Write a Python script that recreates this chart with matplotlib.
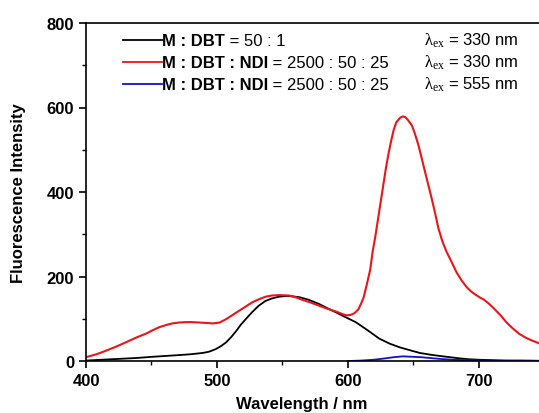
import matplotlib.pyplot as plt
import numpy as np

plt.rcParams['font.family'] = ['Liberation Sans', 'DejaVu Sans']
plt.rcParams['mathtext.fontset'] = 'custom'
plt.rcParams['mathtext.rm'] = 'Liberation Serif'
plt.rcParams['mathtext.it'] = 'Liberation Serif'

# black: M : DBT = 50 : 1, ex 330 nm
wl_black = [400, 412, 425, 438, 451, 461, 471, 480, 489, 494, 499, 503, 507, 511, 515,
            518, 522, 527, 532, 537, 542, 547, 553, 558, 563, 570, 578, 585, 591,
            598, 606, 615, 624, 632, 640, 648, 655, 663, 670, 678, 686, 693, 700,
            710, 720, 733, 746]
int_black = [1, 3, 5, 7, 10, 12, 14, 16, 19, 22, 28, 35, 44, 57, 72,
             85, 99, 116, 131, 142, 148, 152, 154, 153, 151, 145, 135, 124, 115,
             104, 92, 73, 53, 41, 32, 25, 19, 15, 12, 9, 6, 4, 3,
             2, 1, 1, 0.5]

# red: M : DBT : NDI = 2500 : 50 : 25, ex 330 nm
wl_red = [400, 408, 415, 423, 431, 438, 446, 451, 456, 461, 466, 471, 476, 481, 487,
          492, 497, 502, 507, 512, 517, 522, 527, 532, 537, 542, 548, 555, 560, 565,
          571, 578, 584, 591, 596, 599, 602, 605, 608, 610, 612, 614, 617, 619,
          621, 623, 625, 627, 629, 631, 633, 635, 637, 640, 642, 644, 646, 649,
          651, 654, 656, 659, 662, 664, 667, 669, 672, 675, 679, 683, 687, 691,
          694, 697, 701, 704, 708, 712, 717, 721, 726, 731, 736, 741, 746]
int_red = [9, 16, 24, 34, 45, 55, 65, 73, 80, 85, 89, 91, 92, 92, 91,
           90, 89, 91, 99, 109, 119, 129, 139, 146, 152, 155, 156, 155, 151, 145,
           139, 131, 124, 117, 111, 108, 109, 113, 122, 135, 150, 175, 215, 260,
           295, 335, 375, 415, 455, 490, 520, 547, 565, 576, 579, 577, 570, 557,
           540, 510, 485, 447, 410, 385, 345, 316, 285, 261, 236, 210, 190, 174,
           165, 158, 150, 145, 135, 123, 107, 92, 77, 64, 55, 48, 42]

# blue: M : DBT : NDI = 2500 : 50 : 25, ex 555 nm
wl_blue = [600, 610, 620, 628, 635, 642, 649, 656, 663, 670, 680, 690, 705, 725, 746]
int_blue = [0, 1, 3, 6, 9, 11, 10, 9, 7, 5, 3, 2, 1, 0.5, 0.3]

fig = plt.figure(figsize=(5.39, 4.14), dpi=100)
ax = fig.add_axes([86/539, 52/414, 1 - 86/539, 338/414])

ax.plot(wl_black, int_black, color='black', lw=1.3)
ax.plot(wl_red, int_red, color='#e8161b', lw=1.5)
ax.plot(wl_blue, int_blue, color='#1010d0', lw=1.3)

ax.set_xlim(400, 746)
ax.set_ylim(0, 800)
ax.set_xticks([400, 500, 600, 700])
ax.set_xticks([450, 550, 650], minor=True)
ax.set_yticks([0, 200, 400, 600, 800])
ax.set_yticks([100, 300, 500, 700], minor=True)
ax.spines['right'].set_visible(False)
for s in ax.spines.values():
    s.set_linewidth(1.2)
ax.tick_params(which='major', direction='out', length=5, width=1.2, labelsize=12)
ax.tick_params(which='minor', direction='out', length=3, width=1.0)
for lab in ax.get_xticklabels() + ax.get_yticklabels():
    lab.set_fontweight('bold')

ax.set_xlabel('Wavelength / nm', fontsize=12, fontweight='bold')
ax.xaxis.set_label_coords((302 - 86) / 453, -0.105)
ax.set_ylabel('Fluorescence Intensity', fontsize=12, fontweight='bold')
ax.yaxis.set_label_coords(-0.132, 0.5)

# custom legend
rows = [('M : DBT', ' = 50 : 1', '330', 'black'),
        ('M : DBT : NDI', ' = 2500 : 50 : 25', '330', '#e8161b'),
        ('M : DBT : NDI', ' = 2500 : 50 : 25', '555', '#1010d0')]
ys = [41, 63, 85]
for (bold, rest, ex, col), y in zip(rows, ys):
    yf = 1 - y / 414
    fig.add_artist(plt.Line2D([123/539, 162/539], [yf, yf], color=col, lw=1.3))
    t = fig.text(162/539, yf, bold, fontsize=12, fontweight='bold', va='center')
    fig.canvas.draw()
    ax.annotate(rest, xy=(1, 0.5), xycoords=t, va='center', fontsize=12)
    fig.text(424/539, yf, r'$\lambda_{\mathrm{ex}}$' + ' = ' + ex + ' nm', fontsize=12, va='center')

fig.savefig('out.png', dpi=100)
